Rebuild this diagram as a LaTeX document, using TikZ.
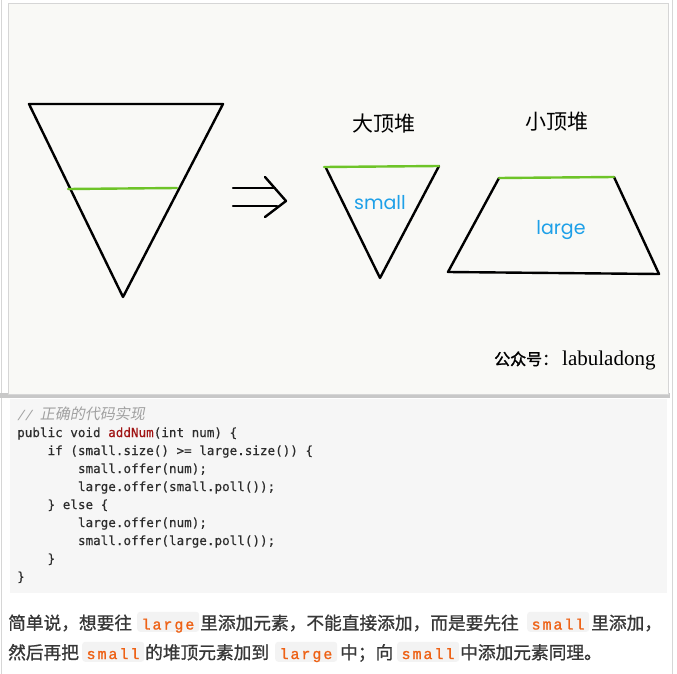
\documentclass[tikz,border=0pt]{standalone}
\usepackage{fontspec}
\newfontfamily\cjk{Noto Sans CJK SC}
\newfontfamily\cjkpara{Noto Sans CJK SC}[FakeBold=0.9]
\newfontfamily\cjkwm{Noto Sans CJK SC}[FakeBold=1.4]
\newfontfamily\cjkit{Noto Sans CJK SC}[FakeSlant=0.2]
\newfontfamily\codefont{DejaVu Sans Mono}[FakeBold=0.4]
\newfontfamily\codeit{DejaVu Sans Mono}[FakeSlant=0.2]
\newfontfamily\inlcode{Liberation Mono}[LetterSpace=13,FakeBold=1.2]
\newfontfamily\roundf{Poppins}
\newfontfamily\wmserif{Liberation Serif}
\definecolor{imgbg}{RGB}{249,249,246}
\definecolor{heapgreen}{RGB}{110,196,40}
\definecolor{heapblue}{RGB}{30,160,232}
\definecolor{codebg}{RGB}{246,246,246}
\definecolor{codefg}{RGB}{45,45,45}
\definecolor{codecomment}{RGB}{160,160,160}
\definecolor{codetitle}{RGB}{160,20,20}
\definecolor{inlbg}{RGB}{243,243,243}
\definecolor{inlfg}{RGB}{238,98,22}
\definecolor{paratext}{RGB}{55,55,55}
\definecolor{framegray}{RGB}{214,214,214}
\definecolor{shadowgray}{RGB}{200,200,200}
\begin{document}
\begin{tikzpicture}[x=1pt,y=-1pt,
  handline/.style={line width=2.4pt, line cap=round, line join=round, draw=black},
  greenline/.style={line width=2.4pt, line cap=round, draw=heapgreen},
  heading/.style={inner sep=0pt, font=\cjk\fontsize{21}{24}\selectfont},
  heaplabel/.style={anchor=base, inner sep=0pt, text=heapblue, font=\roundf\fontsize{19}{22}\selectfont},
  codeline/.style={anchor=base west, inner sep=0pt, text=codefg, font=\codefont\fontsize{12.6}{15}\selectfont},
  paraseg/.style={anchor=base west, inner sep=0pt, text=paratext, font=\cjkpara\fontsize{17.7}{20}\selectfont},
  inlbox/.style={anchor=south west, fill=inlbg, rounded corners=3pt, minimum width=62pt, minimum height=20pt, inner sep=0pt},
  inltext/.style={anchor=base, inner sep=0pt, text=inlfg, font=\inlcode\fontsize{15}{18}\selectfont}]
\useasboundingbox (0,0) rectangle (677,674);
\fill[white] (0,0) rectangle (677,674);
% page border lines
\draw[framegray, line width=1pt] (1,0) -- (1,674);
\draw[framegray, line width=1pt] (672,0) -- (672,674);
% image frame
\fill[shadowgray] (0,393) rectangle (670,398);
\filldraw[fill=imgbg, draw=framegray, line width=0.8pt] (8,3) rectangle (668,394);
% big triangle
\draw[handline] (29,104) -- (223,104) -- (123,297) -- cycle;
\draw[greenline] (68,189) -- (177,188);
% hand drawn implication arrow
\draw[handline] (233,188) -- (275,188);
\draw[handline] (233,206) -- (277,206);
\draw[handline] (265,177) -- (286,201) -- (265,217);
% max heap
\node[heading] (maxh) at (384,124) {大顶堆};
\draw[handline] (326,168) -- (380,278) -- (439,166);
\draw[greenline] (324,167) -- (439,166);
\node[heaplabel] (smalllbl) at (380,209) {small};
% min heap
\node[heading] (minh) at (557,122) {小顶堆};
\draw[handline] (499,178) -- (448,272) -- (659,274) -- (614,177);
\draw[greenline] (499,178) -- (614,177);
\node[heaplabel] (largelbl) at (561,234) {large};
% watermark
\node[anchor=base west, inner sep=0pt, font=\cjkwm\fontsize{16}{18}\selectfont] (wm1) at (494,365) {公众号：};
\node[anchor=base west, inner sep=0pt, font=\wmserif\fontsize{21}{24}\selectfont] (wm2) at (562,365) {labuladong};
% code block
\fill[codebg] (10,399) rectangle (667,593);
\node[codeline, text=codecomment] (c0) at (17,419) {{\codeit// }{\cjkit\fontsize{15}{15}\selectfont 正确的代码实现}};
\node[codeline] (c1) at (17,437) {public void \textcolor{codetitle}{addNum}(int num) \{};
\node[codeline] (c2) at (47.4,455) {if (small.size() >= large.size()) \{};
\node[codeline] (c3) at (77.8,473) {small.offer(num);};
\node[codeline] (c4) at (77.8,491) {large.offer(small.poll());};
\node[codeline] (c5) at (47.4,509) {\} else \{};
\node[codeline] (c6) at (77.8,527) {large.offer(num);};
\node[codeline] (c7) at (77.8,545) {small.offer(large.poll());};
\node[codeline] (c8) at (47.4,563) {\}};
\node[codeline] (c9) at (17,581) {\}};
% paragraph line 1
\node[paraseg] (p1a) at (8,629.5) {简单说，想要往};
\node[inlbox] (b1) at (137,632) {};
\node[inltext] (i1) at (168,629.5) {large};
\node[paraseg] (p1b) at (200,629.5) {里添加元素，不能直接添加，而是要先往};
\node[inlbox] (b2) at (527,632) {};
\node[inltext] (i2) at (558,629.5) {small};
\node[paraseg] (p1c) at (591,629.5) {里添加，};
% paragraph line 2
\node[paraseg] (p2a) at (8,659) {然后再把};
\node[inlbox] (b3) at (82,662) {};
\node[inltext] (i3) at (113,659) {small};
\node[paraseg] (p2b) at (145,659) {的堆顶元素加到};
\node[inlbox] (b4) at (275,662) {};
\node[inltext] (i4) at (306,659) {large};
\node[paraseg] (p2c) at (340,659) {中；向};
\node[inlbox] (b5) at (397,662) {};
\node[inltext] (i5) at (428,659) {small};
\node[paraseg] (p2d) at (460,659) {中添加元素同理。};
\end{tikzpicture}
\end{document}
